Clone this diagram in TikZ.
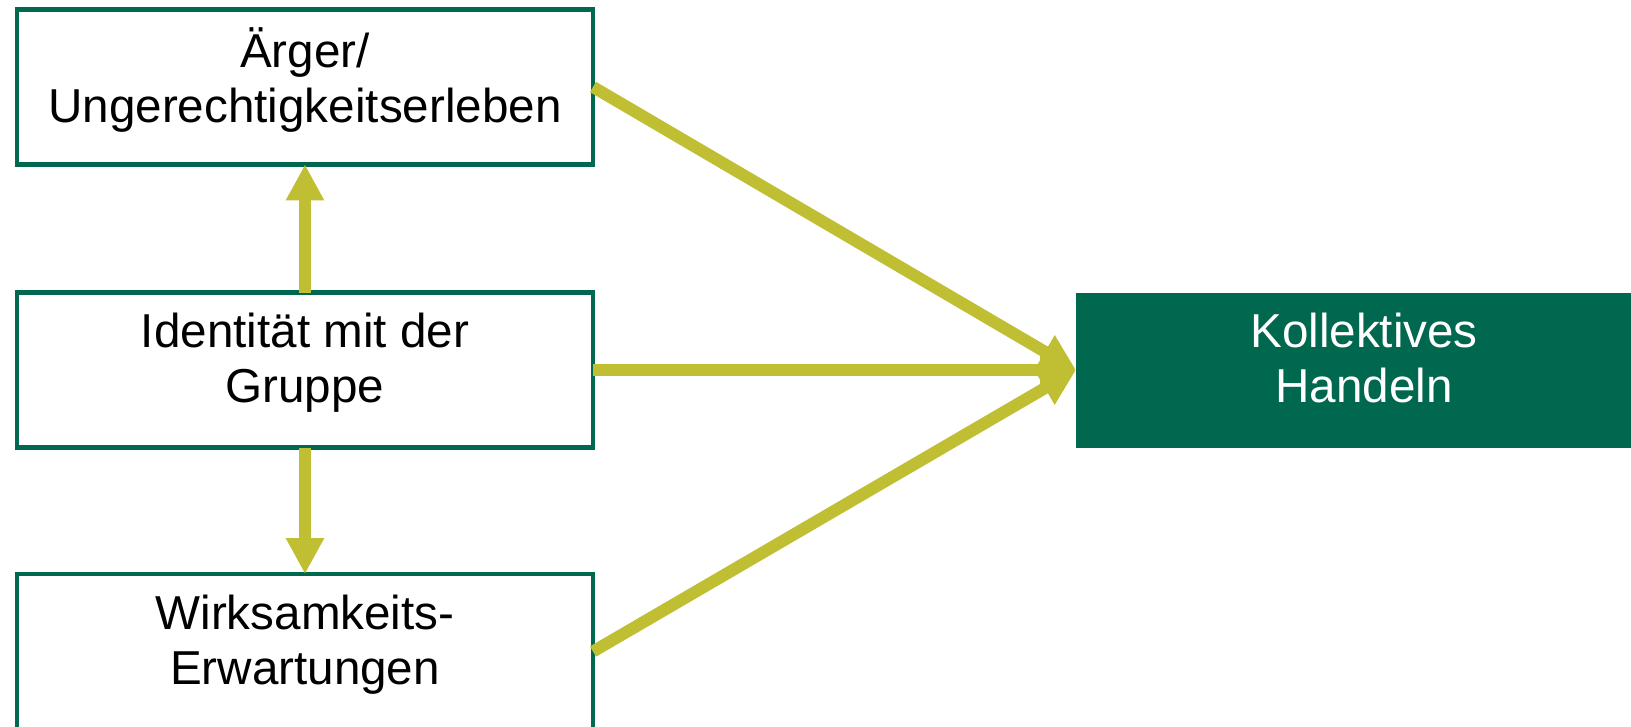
\documentclass[tikz,border=0pt]{standalone}
\usepackage{fontspec}
\setmainfont{Liberation Sans}
\usepackage{xcolor}
\usetikzlibrary{arrows.meta}
\definecolor{dgreen}{RGB}{0,104,78}
\definecolor{olive}{RGB}{192,190,50}

\begin{document}
\begin{tikzpicture}[x=0.5pt,y=-0.5pt,
	box/.style={draw=dgreen, line width=2.2pt, fill=white, minimum width=288pt,
		minimum height=77.5pt, outer sep=0pt, align=center, text depth=12pt,
		font=\fontsize{23.8}{27.5}\selectfont},
	goal/.style={box, draw=none, fill=dgreen, text=white},
	pfeil/.style={draw=olive, line width=6pt, -{Triangle[width=18pt,length=18pt]}}]
\useasboundingbox (0,0) rectangle (1631,727);

	% three factors on the left, the outcome on the right
	\node[box] (aerger) at (305,87) {Ärger/\\Ungerechtigkeitserleben};
	\node[box] (ident) at (305,370) {Identität mit der\\Gruppe};
	\node[box] (wirk) at (305,651.5) {Wirksamkeits-\\Erwartungen};
	\node[goal] (handeln) at (1364,370) {Kollektives\\Handeln};
	
	\draw[pfeil] (ident.north) -- (aerger.south);
	\draw[pfeil] (ident.south) -- (wirk.north);
	
	\draw[pfeil] (aerger.east) -- (handeln.west);
	\draw[pfeil] (ident.east) -- (handeln.west);
	\draw[pfeil] (wirk.east) -- (handeln.west);
\end{tikzpicture}
\end{document}
